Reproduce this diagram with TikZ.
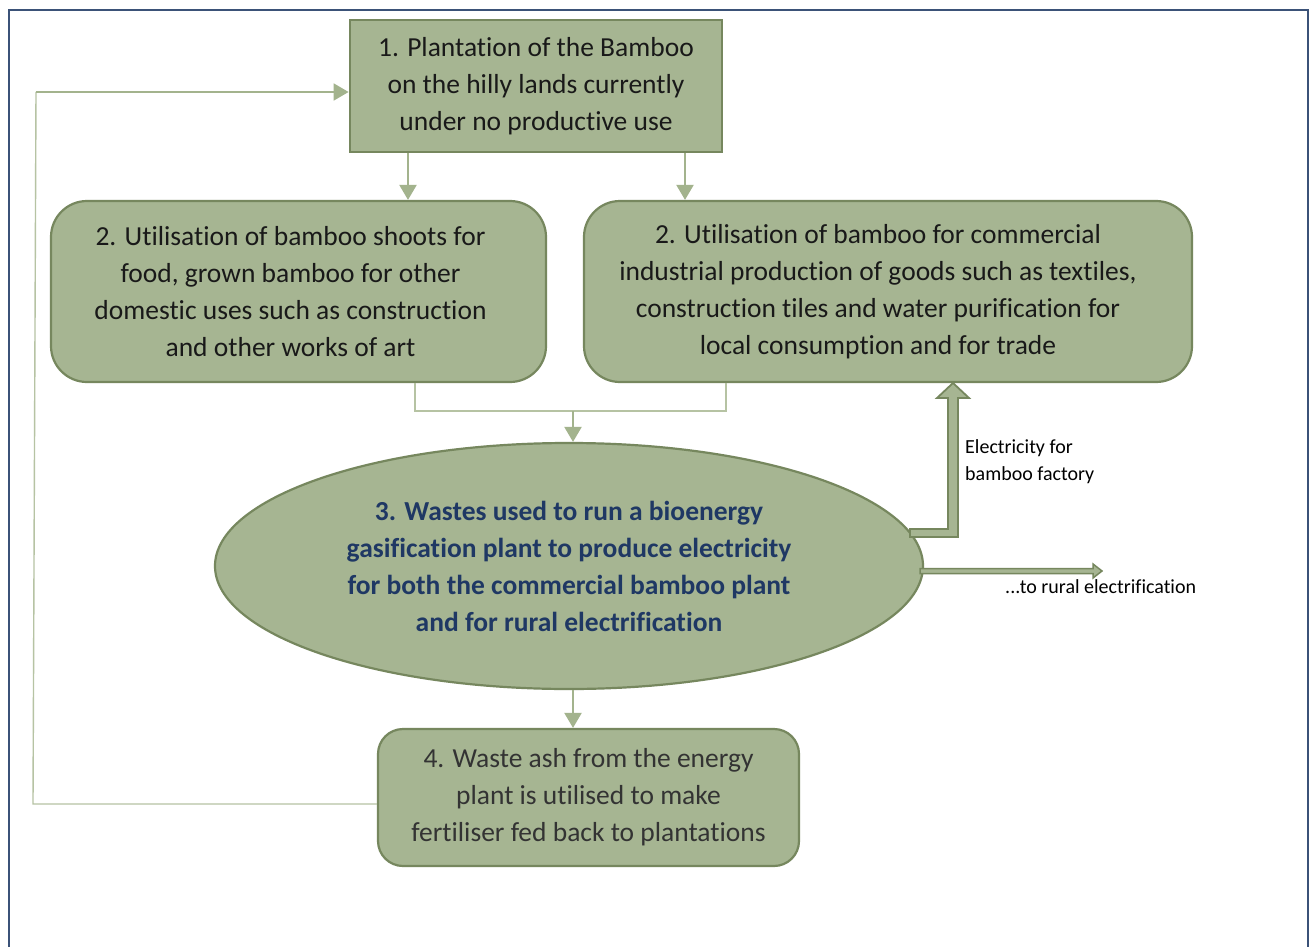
\documentclass[tikz,border=0pt]{standalone}
\usepackage{fontspec}
\setmainfont{Carlito}[Ligatures={NoCommon}]
\usetikzlibrary{shapes.geometric,arrows.meta}
\definecolor{boxfill}{HTML}{A6B592}
\definecolor{boxline}{HTML}{76875E}
\definecolor{conn}{HTML}{A3B38D}
\definecolor{connthin}{HTML}{B6C3A3}
\definecolor{framec}{HTML}{3B5278}
\definecolor{navy}{HTML}{1F3864}
\tikzset{
  box/.style={draw=boxline, fill=boxfill, line width=2.2pt, align=center, inner sep=0pt,
    font=\fontsize{27.5}{37}\selectfont, text=black!90},
  rbox/.style={box, rounded corners=36pt},
  boxtext/.style={align=center, inner sep=0pt, font=\fontsize{27.5}{37}\selectfont, text=black!90},
  arr/.style={draw=conn, line width=2.2pt, -{Triangle[length=15pt,width=17pt]}},
  thin/.style={draw=connthin, line width=1.4pt},
  blockarrow/.style={draw=boxline, fill=boxfill, line width=1.8pt, line join=miter},
  lbl/.style={font=\fontsize{20}{27}\selectfont, align=left, inner sep=0pt, anchor=north west}
}
\begin{document}
\begin{tikzpicture}[x=1pt,y=-1pt]
\useasboundingbox (0,0) rectangle (1314,947);
\fill[white] (0,0) rectangle (1314,947);
% frame
\draw[framec, line width=2.4pt] (9,980) -- (9,10) -- (1308,10) -- (1308,980);

% nodes
\node[box, line width=2.8pt, minimum width=372pt, minimum height=132pt] (b1) at (536,86)
  {1. Plantation of the Bamboo\\on the hilly lands currently\\under no productive use};
\node[rbox, minimum width=495pt, minimum height=181pt] (b2l) at (298.5,291.5) {};
\node[boxtext] (t2l) at ([xshift=-8pt]b2l.center)
  {2. Utilisation of bamboo shoots for\\food, grown bamboo for other\\domestic uses such as construction\\and other works of art};
\node[rbox, minimum width=608pt, minimum height=181pt] (b2r) at (888,291.5) {};
\node[boxtext] (t2r) at ([xshift=-10pt]b2r.center)
  {2. Utilisation of bamboo for commercial\\industrial production of goods such as textiles,\\construction tiles and water purification for\\local consumption and for trade};
\node[draw=boxline, fill=boxfill, line width=2.2pt, ellipse, inner sep=0pt,
  minimum width=708pt, minimum height=246pt, align=center, text=navy,
  font=\fontsize{27.5}{37}\selectfont\bfseries] (el) at (569,566)
  {3. Wastes used to run a bioenergy\\gasification plant to produce electricity\\for both the commercial bamboo plant\\and for rural electrification};
\node[box, rounded corners=25pt, minimum width=421pt, minimum height=137pt, text=black!80] (b4) at (588.5,797.5)
  {4. Waste ash from the energy\\plant is utilised to make\\fertiliser fed back to plantations};

% connectors
\draw[arr] (b1.south -| 408,0) -- (b2l.north -| 408,0);
\draw[arr] (b1.south -| 685,0) -- (b2r.north -| 685,0);
\coordinate (m) at (573,411);
\draw[thin] (b2l.south -| 415,0) |- (m) -| (b2r.south -| 726,0);
\draw[arr] (m) -- (el.north -| m);
\draw[arr] (el.south -| 573,0) -- (b4.north -| 573,0);
\coordinate (fb) at (33,804);
\draw[thin] (b4.west |- fb) -- (fb) -- (36,92);
\draw[arr, line width=1.8pt] (36,92) -- (b1.west |- 0,92);

% block arrows
\draw[blockarrow] (910,529) -- (948,529) -- (948,398) -- (937,398) -- (953,383) -- (969,398) -- (958,398) -- (958,537) -- (910,537) -- cycle;
\draw[blockarrow, line width=1.5pt] (920,568.5) -- (1093,568.5) -- (1093,564) -- (1102,571) -- (1093,578) -- (1093,573.5) -- (920,573.5) -- cycle;

% labels
\node[lbl] (l1) at (965,439) {Electricity for\\bamboo factory};
\node[lbl] (l2) at (1005,579) {...to rural electrification};
\end{tikzpicture}
\end{document}
